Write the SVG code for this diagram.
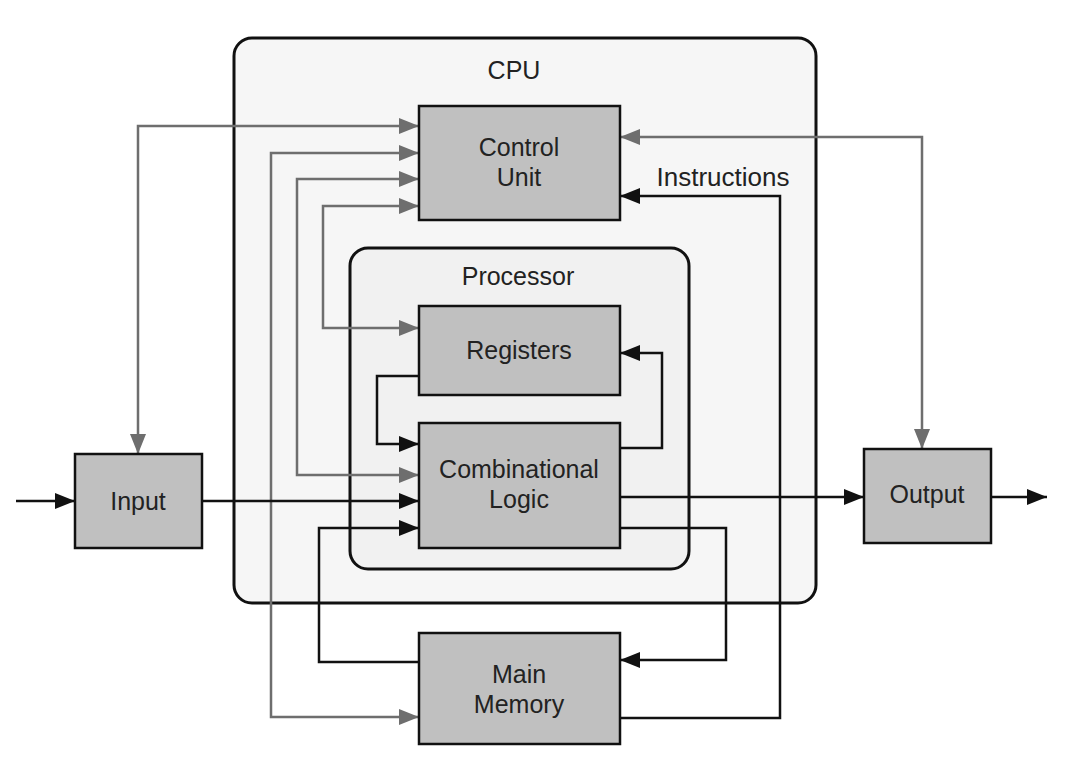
<svg xmlns="http://www.w3.org/2000/svg" width="1080" height="770" viewBox="0 0 1080 770">
<style>
.bg{fill:#ffffff}
.cont{fill:#f6f6f6;stroke:#111;stroke-width:3}
.proc{fill:#f1f1f1;stroke:#111;stroke-width:3}
.node{fill:#c0c0c0;stroke:#111;stroke-width:2.5}
.lbl{font-family:"Liberation Sans",Arial,sans-serif;font-size:25px;fill:#222;text-anchor:middle}
.g{fill:none;stroke:#6e6e6e;stroke-width:2.5;marker-start:url(#ag);marker-end:url(#ag)}
.b{fill:none;stroke:#111;stroke-width:2.5;marker-end:url(#ab)}
</style>
<defs>
<marker id="ag" markerUnits="userSpaceOnUse" markerWidth="20" markerHeight="16" refX="20" refY="8" orient="auto-start-reverse"><path d="M0,0 L20,8 L0,16 z" fill="#6e6e6e"/></marker>
<marker id="ab" markerUnits="userSpaceOnUse" markerWidth="20" markerHeight="16" refX="20" refY="8" orient="auto-start-reverse"><path d="M0,0 L20,8 L0,16 z" fill="#111"/></marker>
</defs>
<rect class="bg" x="0" y="0" width="1080" height="770"/>
<g id="cpu">
<rect class="cont" x="234" y="38" width="582" height="565" rx="18"/>
<text class="lbl" x="514" y="79">CPU</text>
</g>
<g id="processor">
<rect class="proc" x="350" y="248" width="339" height="321" rx="18"/>
<text class="lbl" x="518" y="285">Processor</text>
</g>
<g id="connectors">
<path class="g" d="M138,454 V126 H419"/>
<path class="g" d="M419,153 H271 V717 H419"/>
<path class="g" d="M419,179 H297 V475 H419"/>
<path class="g" d="M419,206 H323 V328 H419"/>
<path class="g" d="M620,137 H922 V449"/>
<path class="b" d="M16,501 H75"/>
<path class="b" d="M202,501 H419"/>
<path class="b" d="M419,376 H377 V444 H419"/>
<path class="b" d="M620,448 H662 V353 H620"/>
<path class="b" d="M620,497 H864"/>
<path class="b" d="M620,528 H726 V660 H620"/>
<path class="b" d="M419,662 H319 V528 H419"/>
<path class="b" d="M620,718 H780 V196 H620"/>
<path class="b" d="M991,497 H1047"/>
<text class="lbl" x="723" y="186" style="font-size:26px">Instructions</text>
</g>
<g id="control-unit">
<rect class="node" x="419" y="106" width="201" height="114"/>
<text class="lbl" x="519" y="156">Control</text>
<text class="lbl" x="519" y="186">Unit</text>
</g>
<g id="registers">
<rect class="node" x="419" y="306" width="201" height="89"/>
<text class="lbl" x="519" y="359">Registers</text>
</g>
<g id="combinational-logic">
<rect class="node" x="419" y="423" width="201" height="125"/>
<text class="lbl" x="519" y="478">Combinational</text>
<text class="lbl" x="519" y="508">Logic</text>
</g>
<g id="input">
<rect class="node" x="75" y="454" width="127" height="94"/>
<text class="lbl" x="138" y="510">Input</text>
</g>
<g id="output">
<rect class="node" x="864" y="449" width="127" height="94"/>
<text class="lbl" x="927" y="503">Output</text>
</g>
<g id="main-memory">
<rect class="node" x="419" y="633" width="201" height="111"/>
<text class="lbl" x="519" y="683">Main</text>
<text class="lbl" x="519" y="713">Memory</text>
</g>
</svg>
